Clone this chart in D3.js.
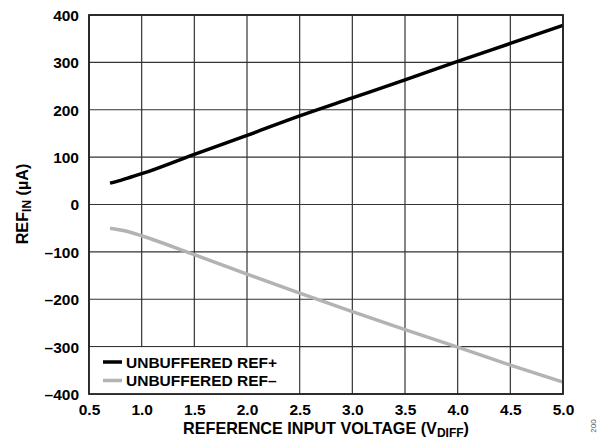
<!DOCTYPE html>
<html><head><meta charset="utf-8">
<script src="https://cdn.jsdelivr.net/npm/d3@7"></script>
<style>body{margin:0;background:#fff}svg{display:block}text{font-family:"Liberation Sans",Arial,sans-serif;font-weight:bold}</style>
</head><body><svg id="c" width="600" height="444"></svg>
<script>
const voltage = [0.7, 0.8, 0.9, 1.0, 1.5, 2.0, 2.5, 3.0, 3.5, 4.0, 4.5, 5.0];
const refPlus = [45, 51, 58, 65, 106, 146, 187, 225, 263, 302, 340, 378];
const refMinus = [-50, -54, -59, -66, -106, -147, -187, -226, -264, -301, -339, -375];
const xTicks = [0.5, 1.0, 1.5, 2.0, 2.5, 3.0, 3.5, 4.0, 4.5, 5.0];
const yTicks = [-400, -300, -200, -100, 0, 100, 200, 300, 400];
const seriesNames = ["UNBUFFERED REF+", "UNBUFFERED REF\u2013"];
const seriesColors = ["#000000", "#b3b3b3"];

const svg = d3.select("#c");
const L = 89, R = 563, T = 15, B = 394;
const x = d3.scaleLinear().domain([0.5, 5.0]).range([L, R]);
const y = d3.scaleLinear().domain([-400, 400]).range([B, T]);
const FS = 15.5;

// grid
svg.append("g").selectAll("line").data(xTicks).join("line")
  .attr("x1", d => x(d)).attr("x2", d => x(d)).attr("y1", T).attr("y2", B)
  .attr("stroke", "#333").attr("stroke-width", 1.2);
svg.append("g").selectAll("line").data(yTicks).join("line")
  .attr("y1", d => y(d)).attr("y2", d => y(d)).attr("x1", L).attr("x2", R)
  .attr("stroke", "#333").attr("stroke-width", 1.2);

const line = d3.line().x((d, i) => x(voltage[i])).y(d => y(d)).curve(d3.curveMonotoneX);
[refPlus, refMinus].forEach((s, k) => {
  svg.append("path").datum(s).attr("d", line).attr("fill", "none")
    .attr("stroke", seriesColors[k]).attr("stroke-width", 3.5);
});

// legend box (covers grid left of 2.5)
svg.append("rect").attr("x", L).attr("y", y(-300) + 0.6).attr("width", x(2.5) - L - 0.6).attr("height", B - y(-300) - 0.6)
  .attr("fill", "#fff");
seriesNames.forEach((n, k) => {
  const yy = 362 + k * 18.5;
  svg.append("line").attr("x1", 103).attr("x2", 122).attr("y1", yy).attr("y2", yy)
    .attr("stroke", seriesColors[k]).attr("stroke-width", 3.5);
  svg.append("text").attr("x", 126).attr("y", yy + 5.5).attr("font-size", FS).attr("fill", "#000").text(n);
});

// frame
svg.append("rect").attr("x", L).attr("y", T).attr("width", R - L).attr("height", B - T)
  .attr("fill", "none").attr("stroke", "#222").attr("stroke-width", 1.8);

// axes labels
const xAxis = d3.axisBottom(x).tickValues(xTicks).tickFormat(d3.format(".1f")).tickSize(0).tickPadding(0);
const gx = svg.append("g").attr("transform", `translate(0,${B})`).call(xAxis);
gx.select(".domain").remove();
gx.selectAll("text").attr("font-size", FS).attr("fill", "#000").attr("dy", null).attr("y", 21)
  .style("font-family", '"Liberation Sans",Arial,sans-serif').style("font-weight", "bold");

const yAxis = d3.axisLeft(y).tickValues(yTicks).tickFormat(d => d < 0 ? "\u2013" + Math.abs(d) : d).tickSize(0).tickPadding(0);
const gy = svg.append("g").attr("transform", `translate(${L - 10},0)`).call(yAxis);
gy.select(".domain").remove();
gy.selectAll("text").attr("font-size", FS).attr("fill", "#000").attr("dy", "0.35em").attr("x", 0)
  .style("font-family", '"Liberation Sans",Arial,sans-serif').style("font-weight", "bold");

// x title
const xt = svg.append("text").attr("x", 326).attr("y", 434).attr("text-anchor", "middle").attr("font-size", 16.2).attr("fill", "#000");
xt.append("tspan").text("REFERENCE INPUT VOLTAGE (V");
xt.append("tspan").attr("font-size", 12).attr("dy", 3).text("DIFF");
xt.append("tspan").attr("dy", -3).text(")");

// y title
const yt = svg.append("text").attr("transform", "translate(28,204) rotate(-90)").attr("text-anchor", "middle").attr("font-size", 16.2).attr("fill", "#000");
yt.append("tspan").text("REF");
yt.append("tspan").attr("font-size", 12).attr("dy", 3).text("IN");
yt.append("tspan").attr("dy", -3).text(" (\u00b5A)");

// figure id
svg.append("text").attr("transform", "translate(596,426) rotate(-90)").attr("text-anchor", "middle")
  .attr("font-size", 8).style("font-weight", "normal").attr("fill", "#555").text("200");
</script></body></html>
